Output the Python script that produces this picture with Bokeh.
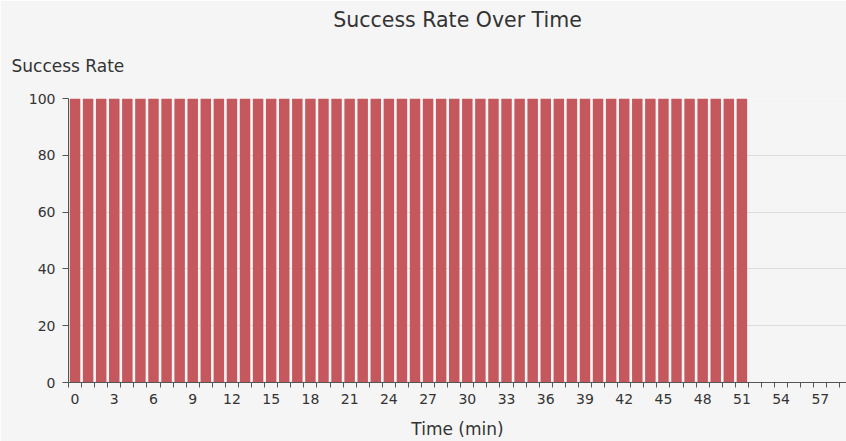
from bokeh.plotting import figure
from bokeh.models import FixedTicker, Range1d, Title
from bokeh.embed import file_html
from bokeh.resources import INLINE

title_text = "Success Rate Over Time"
y_title = "Success Rate"
x_title = "Time (min)"

time_min = [0, 1, 2, 3, 4, 5, 6, 7, 8, 9, 10, 11, 12, 13, 14, 15, 16, 17, 18, 19,
            20, 21, 22, 23, 24, 25, 26, 27, 28, 29, 30, 31, 32, 33, 34, 35, 36, 37, 38, 39,
            40, 41, 42, 43, 44, 45, 46, 47, 48, 49, 50, 51, 52, 53, 54, 55, 56, 57, 58, 59]

bar_minutes = [0, 1, 2, 3, 4, 5, 6, 7, 8, 9, 10, 11, 12, 13, 14, 15, 16, 17, 18, 19,
               20, 21, 22, 23, 24, 25, 26, 27, 28, 29, 30, 31, 32, 33, 34, 35, 36, 37, 38, 39,
               40, 41, 42, 43, 44, 45, 46, 47, 48, 49, 50, 51]
success_rate = [100, 100, 100, 100, 100, 100, 100, 100, 100, 100, 100, 100, 100,
                100, 100, 100, 100, 100, 100, 100, 100, 100, 100, 100, 100, 100,
                100, 100, 100, 100, 100, 100, 100, 100, 100, 100, 100, 100, 100,
                100, 100, 100, 100, 100, 100, 100, 100, 100, 100, 100, 100, 100]

x_tick_values = [0, 3, 6, 9, 12, 15, 18, 21, 24, 27, 30, 33, 36, 39, 42, 45, 48, 51, 54, 57]
x_tick_labels = ["0", "3", "6", "9", "12", "15", "18", "21", "24", "27",
                 "30", "33", "36", "39", "42", "45", "48", "51", "54", "57"]
y_tick_values = [0, 20, 40, 60, 80, 100]

BG = "#f5f5f5"
TXT = "#333333"
AX = "#555555"
FONT = "DejaVu Sans"

p = figure(width=846, height=441, output_backend="svg", toolbar_location=None,
           x_range=Range1d(time_min[0] - 0.5, time_min[-1]),
           y_range=Range1d(0, 100),
           min_border_left=68, min_border_right=0, min_border_top=98, min_border_bottom=58)
p.background_fill_color = BG
p.border_fill_color = BG
p.outline_line_color = None

# outer (top) title
p.title = Title(text=title_text, align="center", standoff=0,
                text_font=FONT, text_font_size="20.5px", text_font_style="normal",
                text_color=TXT)
# inner title acting as the y axis name
p.add_layout(Title(text=y_title, align="left", offset=-57, standoff=45,
                   text_font=FONT, text_font_size="17px", text_font_style="normal",
                   text_color=TXT), "above")

p.vbar(x=bar_minutes, top=success_rate, width=0.8, bottom=0,
       fill_color="#c4585d", line_color=None)

# x axis
p.xaxis.ticker = FixedTicker(ticks=x_tick_values,
                             minor_ticks=[t - 0.5 for t in time_min])
p.xaxis.major_label_overrides = {v: l for v, l in zip(x_tick_values, x_tick_labels)}
p.xaxis.major_tick_line_color = None
p.xaxis.major_tick_out = 0
p.xaxis.major_tick_in = 0
p.xaxis.minor_tick_line_color = AX
p.xaxis.minor_tick_out = 5
p.xaxis.minor_tick_in = 0
p.xaxis.major_label_standoff = 6
p.xaxis.axis_line_color = AX
p.xaxis.major_label_text_color = TXT
p.xaxis.major_label_text_font = FONT
p.xaxis.major_label_text_font_size = "14px"
p.xaxis.axis_label = x_title
p.xaxis.axis_label_text_font = FONT
p.xaxis.axis_label_text_font_style = "normal"
p.xaxis.axis_label_text_font_size = "17px"
p.xaxis.axis_label_text_color = TXT
p.xaxis.axis_label_standoff = 12

# y axis
p.yaxis.ticker = FixedTicker(ticks=y_tick_values)
p.yaxis.minor_tick_line_color = None
p.yaxis.major_tick_line_color = AX
p.yaxis.major_tick_out = 6
p.yaxis.major_tick_in = 0
p.yaxis.major_label_standoff = 7
p.yaxis.axis_line_color = AX
p.yaxis.major_label_text_color = TXT
p.yaxis.major_label_text_font = FONT
p.yaxis.major_label_text_font_size = "14px"

p.xgrid.grid_line_color = None
p.ygrid.grid_line_color = "#dcdcdc"

open("out.html", "w").write(file_html(p, INLINE))
